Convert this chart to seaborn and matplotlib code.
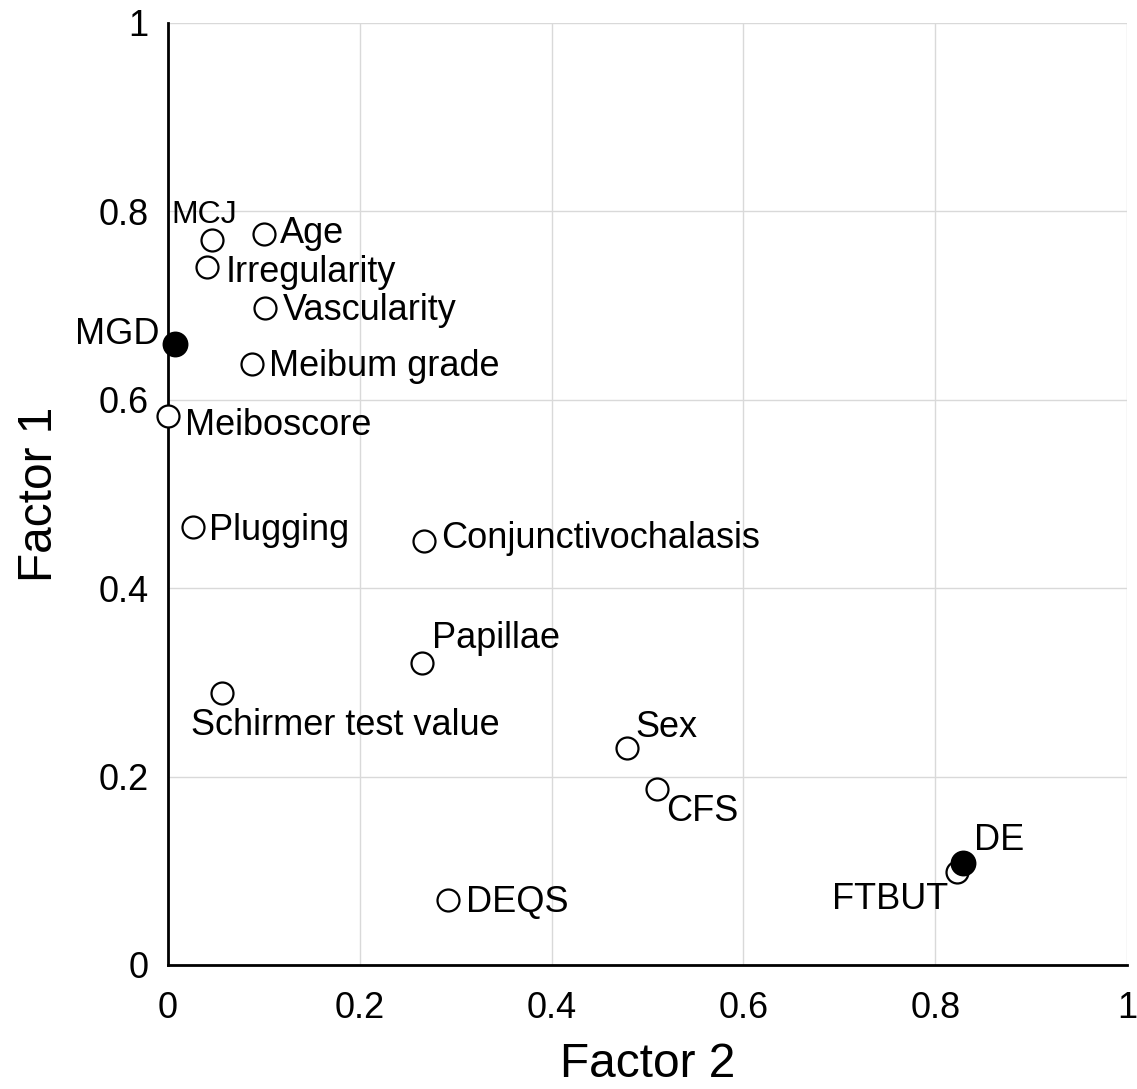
import pandas as pd
import matplotlib
matplotlib.use("Agg")
import matplotlib.pyplot as plt
import seaborn as sns

# factor loadings
names = ["MCJ", "Age", "Irregularity", "Vascularity", "Meibum grade", "Meiboscore",
         "Plugging", "Conjunctivochalasis", "Papillae", "Schirmer test value",
         "Sex", "CFS", "FTBUT", "DEQS", "MGD", "DE"]
factor2 = [0.046, 0.100, 0.041, 0.101, 0.088, 0.000,
           0.026, 0.267, 0.265, 0.056,
           0.479, 0.510, 0.823, 0.292, 0.007, 0.829]
factor1 = [0.770, 0.776, 0.741, 0.697, 0.638, 0.583,
           0.465, 0.450, 0.321, 0.289,
           0.230, 0.187, 0.099, 0.069, 0.659, 0.108]
kind = ["open"] * 14 + ["filled"] * 2

df = pd.DataFrame({"name": names, "Factor 2": factor2, "Factor 1": factor1, "kind": kind})

# label offsets in pixels (dx, dy, ha)
offsets = {
    "MCJ": (-41, 17, "left"),
    "Age": (16, -9, "left"),
    "Irregularity": (18, -15, "left"),
    "Vascularity": (18, -12, "left"),
    "Meibum grade": (17, -12, "left"),
    "Meiboscore": (17, -19, "left"),
    "Plugging": (16, -13, "left"),
    "Conjunctivochalasis": (17, -7, "left"),
    "Papillae": (10, 15, "left"),
    "Schirmer test value": (-31, -42, "left"),
    "Sex": (8, 11, "left"),
    "CFS": (9, -32, "left"),
    "FTBUT": (-9, -37, "right"),
    "DEQS": (18, -12, "left"),
    "MGD": (-15, 0, "right"),
    "DE": (11, 13, "left"),
}

sns.set_style("white")
plt.rcParams['font.family'] = ['Liberation Sans', 'DejaVu Sans']
plt.rcParams['text.color'] = 'black'
plt.rcParams['axes.labelcolor'] = 'black'
plt.rcParams['xtick.color'] = 'black'
plt.rcParams['ytick.color'] = 'black'

fig = plt.figure(figsize=(11.37, 10.89), dpi=100)
ax = fig.add_axes([0.1478, 0.1139, 0.8434, 0.8650])

sns.scatterplot(data=df[df["kind"] == "open"], x="Factor 2", y="Factor 1", ax=ax,
                color="white", edgecolor="black", linewidth=1.6, s=250,
                clip_on=False, zorder=3, legend=False)
sns.scatterplot(data=df[df["kind"] == "filled"], x="Factor 2", y="Factor 1", ax=ax,
                color="black", edgecolor="black", linewidth=1.6, s=290,
                clip_on=False, zorder=4, legend=False)

for _, row in df.iterrows():
    dx, dy, ha = offsets[row["name"]]
    fs = 23 if row["name"] == "MCJ" else 26
    ax.annotate(row["name"], (row["Factor 2"], row["Factor 1"]),
                xytext=(dx * 0.72, dy * 0.72), textcoords="offset points",
                ha=ha, va="baseline", fontsize=fs, color="black", zorder=5)

ax.set_xlim(0, 1)
ax.set_ylim(0, 1)
ticks = [0, 0.2, 0.4, 0.6, 0.8, 1]
tick_labels = ["0", "0.2", "0.4", "0.6", "0.8", "1"]
ax.set_xticks(ticks)
ax.set_xticklabels(tick_labels)
ax.set_yticks(ticks)
ax.set_yticklabels(tick_labels)
ax.tick_params(axis="both", length=0, labelsize=26, labelcolor="black")
ax.tick_params(axis="x", pad=19)
ax.tick_params(axis="y", pad=14)
ax.grid(True, color="#d9d9d9", linewidth=1)
ax.set_axisbelow(True)

for s in ["top", "right"]:
    ax.spines[s].set_visible(False)
for s in ["left", "bottom"]:
    ax.spines[s].set_color("black")
    ax.spines[s].set_linewidth(2)

ax.set_xlabel("Factor 2", fontsize=34.5, labelpad=11, color="black")
ax.set_ylabel("Factor 1", fontsize=34.5, labelpad=26, color="black")

plt.savefig("out.png", dpi=100)
